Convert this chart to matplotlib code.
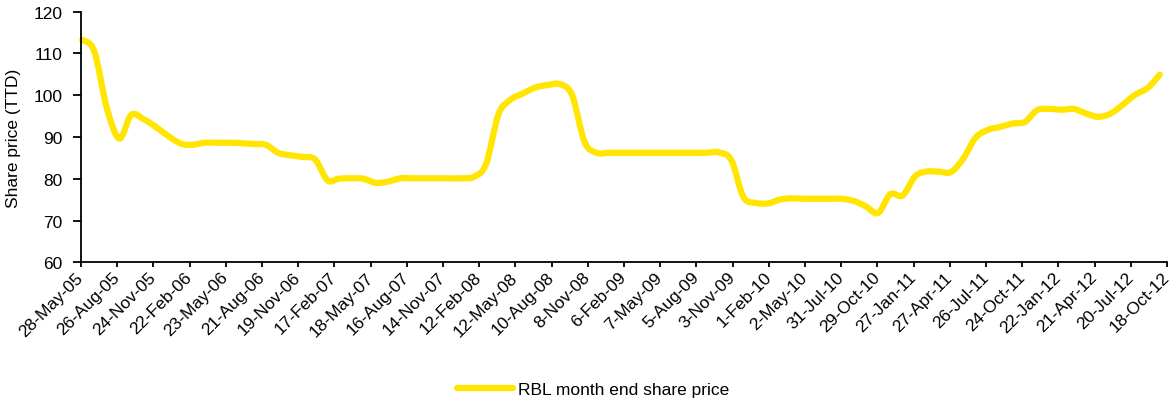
import matplotlib
matplotlib.use('Agg')
import matplotlib.pyplot as plt
import matplotlib.dates as mdates
from matplotlib.path import Path
from matplotlib.patches import PathPatch
from matplotlib.lines import Line2D
import pandas as pd

# month end share price, May-05 .. Sep-12
prices = [
    113.2, 110.5, 97.0, 89.6, 95.3, 94.2, 92.4, 90.2,                      # 2005
    88.4, 88.1, 88.6, 88.6, 88.6, 88.5, 88.3, 88.1, 86.2, 85.6, 85.2, 84.6,  # 2006
    79.6, 80.0, 80.1, 80.0, 79.0, 79.3, 80.1, 80.1, 80.1, 80.1, 80.1, 80.1,  # 2007
    80.5, 83.5, 95.4, 98.9, 100.4, 101.8, 102.4, 102.6, 100.0, 88.8, 86.2, 86.2,  # 2008
    86.2, 86.2, 86.2, 86.2, 86.2, 86.2, 86.2, 86.2, 86.3, 84.4, 75.6, 74.2,  # 2009
    74.1, 75.0, 75.3, 75.2, 75.2, 75.2, 75.2, 74.7, 73.4, 71.8, 76.3, 76.0,  # 2010
    80.6, 81.7, 81.7, 81.6, 84.9, 89.8, 91.7, 92.4, 93.2, 93.6, 96.4, 96.7,  # 2011
    96.5, 96.7, 95.6, 94.8, 95.6, 97.7, 100.1, 101.7, 104.9,                # 2012
]
dates = pd.date_range('2005-05-31', periods=len(prices), freq='ME')

tick_labels = [
    '28-May-05', '26-Aug-05', '24-Nov-05', '22-Feb-06', '23-May-06', '21-Aug-06',
    '19-Nov-06', '17-Feb-07', '18-May-07', '16-Aug-07', '14-Nov-07', '12-Feb-08',
    '12-May-08', '10-Aug-08', '8-Nov-08', '6-Feb-09', '7-May-09', '5-Aug-09',
    '3-Nov-09', '1-Feb-10', '2-May-10', '31-Jul-10', '29-Oct-10', '27-Jan-11',
    '27-Apr-11', '26-Jul-11', '24-Oct-11', '22-Jan-12', '21-Apr-12', '20-Jul-12',
    '18-Oct-12',
]
tick_dates = pd.to_datetime(tick_labels, format='%d-%b-%y')

line_color = '#FFE500'

plt.rcParams['font.family'] = ['Liberation Sans', 'DejaVu Sans']
plt.rcParams['font.size'] = 12.5

fig = plt.figure(figsize=(11.72, 4.02), dpi=100)
ax = fig.add_axes([81 / 1172, 1 - 263.3 / 402, (1167 - 81) / 1172, (263.3 - 12.5) / 402])

# smoothed line like excel: cubic bezier through every month end point
xs = list(mdates.date2num(dates))
ys = prices
verts = [(xs[0], ys[0])]
codes = [Path.MOVETO]
n = len(xs)
for i in range(n - 1):
    i0 = max(i - 1, 0)
    i3 = min(i + 2, n - 1)
    c1 = (xs[i] + (xs[i + 1] - xs[i0]) / 6, ys[i] + (ys[i + 1] - ys[i0]) / 6)
    c2 = (xs[i + 1] - (xs[i3] - xs[i]) / 6, ys[i + 1] - (ys[i3] - ys[i]) / 6)
    verts += [c1, c2, (xs[i + 1], ys[i + 1])]
    codes += [Path.CURVE4] * 3
ax.add_patch(PathPatch(Path(verts, codes), facecolor='none', edgecolor=line_color,
                       linewidth=4.5, joinstyle='round', capstyle='round', clip_on=False))

ax.set_xlim(tick_dates[0], tick_dates[-1])
ax.set_ylim(60, 120)
ax.set_yticks(range(60, 121, 10))
ax.set_xticks(tick_dates)
ax.set_xticklabels(tick_labels, rotation=45, ha='right', va='center', rotation_mode='anchor')

ax.spines['top'].set_visible(False)
ax.spines['right'].set_visible(False)
ax.spines['left'].set_linewidth(1.3)
ax.spines['bottom'].set_linewidth(1.3)
ax.tick_params(axis='y', direction='out', length=5.5, width=1.3, pad=8)
ax.tick_params(axis='x', direction='out', length=3.8, width=1.3, pad=5)

ax.set_ylabel('Share price (TTD)', labelpad=9)

handle = Line2D([], [], color=line_color, linewidth=4.5, solid_capstyle='round')
fig.legend(handles=[handle], labels=['RBL month end share price'], loc='center',
           bbox_to_anchor=(593 / 1172, 1 - 390 / 402), frameon=False,
           handlelength=3.2, handletextpad=0.3)

plt.savefig('out.png', dpi=100)
print('Saved: out.png')
